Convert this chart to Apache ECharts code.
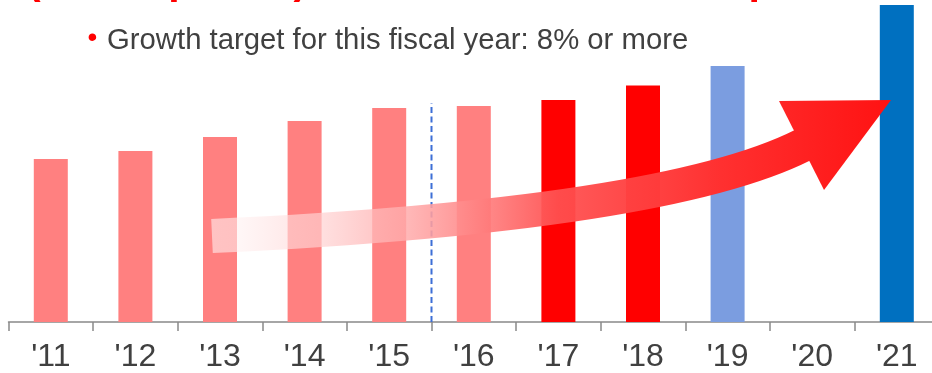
<!DOCTYPE html>
<html>
<head>
<meta charset="utf-8">
<script src="https://cdn.jsdelivr.net/npm/echarts@6/dist/echarts.min.js"></script>
<style>
  html, body { margin: 0; padding: 0; background: #ffffff; overflow: hidden; }
  #main { width: 942px; height: 373px; }
</style>
</head>
<body>
<div id="main"></div>
<script>
// ---- data ----
const categories = ["'11", "'12", "'13", "'14", "'15", "'16", "'17", "'18", "'19", "'20", "'21"];
const salesValues = [163, 171, 185, 201, 214, 216, 222, 236.5, 256, null, 317];
const barColors = ['#FF8080', '#FF8080', '#FF8080', '#FF8080', '#FF8080', '#FF8080', '#FF0000', '#FF0000', '#7B9DE0', '#7B9DE0', '#0070C0'];
const dividerLine = [[5, 0], [5, 219]];   // boundary between '15 and '16
const titleParts = ['(Fiscal period)', 'Sales up'];
const noteText = 'Growth target for this fiscal year: 8% or more';

const FONT = '"Liberation Sans", Arial, sans-serif';

const chart = echarts.init(document.getElementById('main'), null, { renderer: 'canvas' });

const barData = salesValues.map((v, i) => ({ value: v, itemStyle: { color: barColors[i] } }));

const arrowGradient = new echarts.graphic.LinearGradient(212, 0, 891, 0, [
  { offset: 0, color: 'rgba(255,250,250,0.55)' },
  { offset: 0.14, color: 'rgba(255,215,215,0.65)' },
  { offset: 0.32, color: 'rgba(255,160,160,0.88)' },
  { offset: 0.51, color: 'rgba(255,80,80,0.94)' },
  { offset: 0.75, color: 'rgba(255,48,48,1)' },
  { offset: 1, color: 'rgba(255,18,18,1)' }
], true);

const option = {
  animation: false,
  backgroundColor: '#ffffff',
  grid: { left: 8.5, top: 0, width: 930.6, height: 322 },
  xAxis: [
    {
      type: 'category',
      data: categories,
      axisLine: { show: true, lineStyle: { color: '#898989', width: 1.5 } },
      axisTick: { show: true, length: 9, alignWithLabel: false, lineStyle: { color: '#898989', width: 1.5 } },
      axisLabel: { interval: 0, fontSize: 32, color: '#404040', margin: 19, fontFamily: FONT },
      splitLine: { show: false }
    },
    { type: 'value', min: 0, max: 11, show: false }
  ],
  yAxis: { type: 'value', min: 0, max: 322, show: false },
  series: [
    { type: 'bar', data: barData, barWidth: 34, z: 2 },
    {
      type: 'line', xAxisIndex: 1, data: dividerLine, symbol: 'none', z: 3,
      lineStyle: { type: [6, 3.5], color: '#3D6FD6', width: 2 }
    }
  ],
  graphic: [
    { type: 'text', x: 27, y: -17.5, z: 50,
      style: { text: titleParts[0], font: 'bold 41px ' + FONT, fill: '#FF0000', verticalAlign: 'middle' } },
    { type: 'text', x: 605, y: -17.5, z: 50,
      style: { text: titleParts[1], font: 'bold 41px ' + FONT, fill: '#FF0000', verticalAlign: 'middle' } },
    { type: 'text', x: 87.5, y: 38.5, z: 50,
      style: { text: '•', font: '28px ' + FONT, fill: '#FF0000', verticalAlign: 'middle' } },
    { type: 'text', x: 107, y: 40.5, z: 50,
      style: { text: noteText, font: '29.3px ' + FONT, fill: '#404040', verticalAlign: 'middle' } },
    { type: 'bezierCurve', z: 100,
      shape: { x1: 212, y1: 236, x2: 803, y2: 145, cpx1: 664, cpy1: 215 },
      style: { stroke: arrowGradient, lineWidth: 34, fill: null, lineCap: 'butt' } },
    { type: 'polygon', z: 100,
      shape: { points: [[779, 101], [891, 100], [824, 190]] },
      style: { fill: arrowGradient } }
  ]
};

chart.setOption(option);
</script>
</body>
</html>
